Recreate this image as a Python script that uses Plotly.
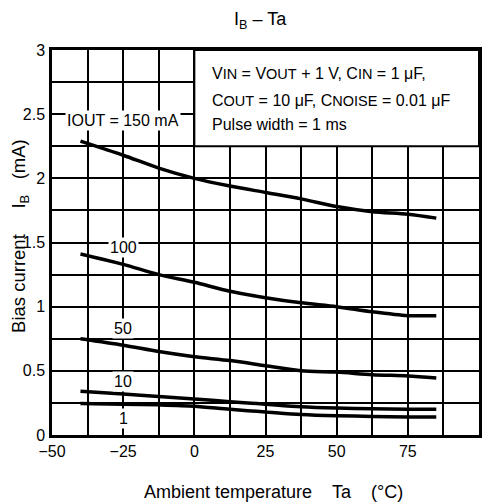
import plotly.graph_objects as go

# ambient temperature (°C) and bias current (mA) per output current
TA = [-40, -25, -12.5, 0, 12.5, 25, 37.5, 50, 62.5, 75, 85]
IB_150 = [2.29, 2.18, 2.08, 2.00, 1.94, 1.89, 1.84, 1.78, 1.74, 1.72, 1.69]
IB_100 = [1.41, 1.33, 1.25, 1.19, 1.12, 1.07, 1.03, 1.00, 0.96, 0.93, 0.93]
IB_50 = [0.75, 0.70, 0.65, 0.61, 0.58, 0.54, 0.50, 0.49, 0.47, 0.46, 0.445]
IB_10 = [0.34, 0.32, 0.30, 0.28, 0.26, 0.24, 0.22, 0.21, 0.205, 0.20, 0.20]
IB_1 = [0.245, 0.24, 0.235, 0.225, 0.20, 0.18, 0.16, 0.15, 0.145, 0.14, 0.14]

SERIES = [IB_150, IB_100, IB_50, IB_10, IB_1]
CURVE_LABELS = ["IOUT = 150 mA", "100", "50", "10", "1"]
LABEL_POS = [(-25, 2.45), (-25, 1.46), (-25, 0.83), (-25, 0.42), (-25, 0.13)]

FONT = "Liberation Sans, Arial, sans-serif"
NB = "\u00a0"

fig = go.Figure()
for ys in SERIES:
    fig.add_trace(go.Scatter(x=TA, y=ys, mode="lines",
                             line=dict(color="black", width=3.5, shape="spline", smoothing=0.8),
                             showlegend=False, hoverinfo="skip"))

# white labels sitting on the grid
for txt, (lx, ly) in zip(CURVE_LABELS, LABEL_POS):
    fig.add_annotation(x=lx, y=ly, text=txt, showarrow=False, bgcolor="white",
                       font=dict(size=16, color="black", family=FONT),
                       borderpad=1)

# conditions box
fig.add_shape(type="rect", x0=0, x1=100, y0=2.25, y1=3, layer="above",
              fillcolor="white", line=dict(color="black", width=2))
small = "<span style='font-size:14.5px'>%s</span>"
cond = [
    "V" + small % "IN" + " = V" + small % "OUT" + " + 1 V, C" + small % "IN" + " = 1 μF,",
    "C" + small % "OUT" + " = 10 μF, C" + small % "NOISE" + " = 0.01 μF",
    "Pulse width = 1 ms",
]
for txt, ly in zip(cond, [2.82, 2.61, 2.42]):
    fig.add_annotation(x=5.5, y=ly, text=txt, showarrow=False, xanchor="left",
                       font=dict(size=16, color="black", family=FONT))

# axis titles placed by hand
fig.add_annotation(x=0.519, y=-0.148, xref="paper", yref="paper", yanchor="middle",
                   text="Ambient temperature" + NB * 4 + "Ta" + NB * 4 + "(°C)", showarrow=False,
                   font=dict(size=18, color="black", family=FONT))
fig.add_annotation(x=-0.075, y=0.517, xref="paper", yref="paper", xanchor="center",
                   text="Bias current" + NB * 5 + "I<sub>B</sub>" + NB * 3 + "(mA)", showarrow=False,
                   textangle=-90, font=dict(size=18.5, color="black", family=FONT))

grid = dict(showgrid=True, gridcolor="black", gridwidth=1.5,
            showline=True, linecolor="black", linewidth=2.5, mirror=True,
            ticks="", zeroline=False, automargin=False)

# page body keeps an 8px margin, so the figure is 8px smaller than the window
fig.update_layout(
    width=484, height=496,
    margin=dict(l=44, r=13, t=42, b=69),
    paper_bgcolor="white", plot_bgcolor="white",
    font=dict(family=FONT, size=16, color="black"),
    title=dict(text="I<sub>B</sub> – Ta", x=0.521, xanchor="center", y=0.978, yanchor="middle",
               font=dict(size=18)),
    xaxis=dict(range=[-50, 100], tickmode="linear", tick0=-50, dtick=25,
               minor=dict(tick0=-50, dtick=12.5, showgrid=True, gridcolor="black", gridwidth=1.5),
               **grid),
    yaxis=dict(range=[0, 3], tickmode="linear", tick0=0, dtick=0.5,
               minor=dict(tick0=0, dtick=0.25, showgrid=True, gridcolor="black", gridwidth=1.5),
               ticklabelstandoff=1, **grid),
)

fig.write_html("out.html")
